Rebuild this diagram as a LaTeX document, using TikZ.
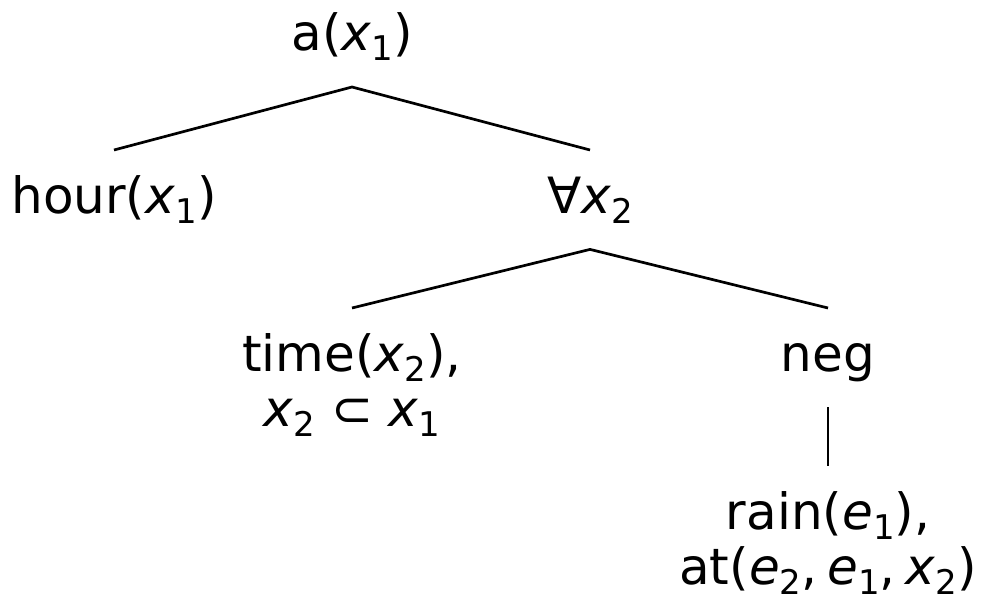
\documentclass[tikz,border=0pt]{standalone}
\usepackage{fontspec}
\setmainfont{DejaVu Sans}
\usepackage{graphicx}
\newcommand{\vr}[2]{\textit{#1}\raisebox{-0.2em}{\scalebox{0.68}{#2}}}
\newcommand{\twolines}[2]{\begin{tabular}[t]{@{}c@{}}#1\\#2\end{tabular}}
\begin{document}
\begin{tikzpicture}[x=1pt,y=-1pt,
  lbl/.style={inner xsep=0pt,inner ysep=24pt,text height=39pt,font=\fontsize{50}{55}\selectfont},
  one/.style={lbl,text depth=12pt},
  many/.style={lbl},
  edge/.style={line width=2.7pt}]
\useasboundingbox (0,0) rectangle (982,602);
\node[one,anchor=south] (a) at (352,87) {a(\vr{x}{1})};
\node[one,anchor=north] (hour) at (114,150) {hour(\vr{x}{1})};
\node[one,anchor=north] (all) at (590,150) {∀\vr{x}{2}};
\node[many,anchor=north] (time) at (352,308) {\twolines{time(\vr{x}{2}),}{\vr{x}{2} ⊂ \vr{x}{1}}};
\node[one,anchor=north] (neg) at (828,308) {neg};
\node[many,anchor=north] (rain) at (828,466) {\twolines{rain(\vr{e}{1}),}{at(\vr{e}{2},\hspace{0.2em}\vr{e}{1},\hspace{0.2em}\vr{x}{2})}};
\draw[edge] (hour.north) -- (a.south) -- (all.north);
\draw[edge] (time.north) -- (all.south) -- (neg.north);
\draw[edge] (neg.south) -- (rain.north);
\end{tikzpicture}
\end{document}
